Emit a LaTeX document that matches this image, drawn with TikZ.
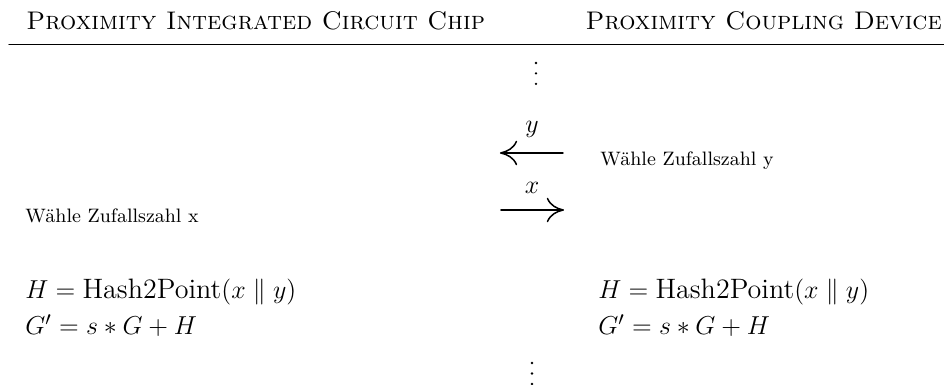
\documentclass[tikz,border=0pt]{standalone}
\usepackage{amsmath}
\usepackage{tikz}
\usetikzlibrary{arrows.meta}

\begin{document}
\begin{tikzpicture}[>={To[length=2.8mm,width=4mm]},line cap=round,
  msg/.style={line width=0.7pt},
  party/.style={inner sep=0pt,font=\fontsize{11.8}{14}\selectfont},
  note/.style={font=\small,anchor=base west,inner sep=0pt},
  lab/.style={inner sep=0pt,font=\fontsize{13}{15}\selectfont},
  eqn/.style={anchor=base west,inner sep=0pt,font=\fontsize{13}{15}\selectfont}]
\useasboundingbox (0,0) rectangle (15.36,6.264);
% header
\node[party,anchor=base west] (chip) at (0.423,5.776) {\textsc{Proximity Integrated Circuit Chip}};
\node[party,anchor=base east] (pcd) at (15.33,5.776) {\textsc{Proximity Coupling Device}};
\coordinate (ruleL) at (0.146,5.548);
\coordinate (ruleR) at (15.36,5.548);
\draw[line width=0.45pt] (ruleL) -- (ruleR);
\foreach \k in {0,1,2}
  \fill (8.721,{5.239-0.17*\k}) circle (0.021);
% messages
\coordinate (yFrom) at (9.160,3.775);
\coordinate (yTo) at (8.135,3.775);
\draw[msg,->] (yFrom) -- (yTo);
\node[lab] (ylab) at (8.656,4.150) {$y$};
\node[note] (choY) at (9.762,3.579) {Wähle Zufallszahl y};
\coordinate (xFrom) at (8.151,2.847);
\coordinate (xTo) at (9.176,2.847);
\draw[msg,->] (xFrom) -- (xTo);
\node[lab] (xlab) at (8.656,3.205) {$x$};
\node[note] (choX) at (0.407,2.636) {Wähle Zufallszahl x};
% both sides
\node[eqn] (hashL) at (0.407,1.415) {$H = \text{Hash2Point}(x \parallel y)$};
\node[eqn] (gL) at (0.407,0.814) {$G' = s * G + H$};
\node[eqn] (hashR) at (9.729,1.415) {$H = \text{Hash2Point}(x \parallel y)$};
\node[eqn] (gR) at (9.729,0.814) {$G' = s * G + H$};
\foreach \k in {0,1,2}
  \fill (8.656,{0.358-0.171*\k}) circle (0.021);
\end{tikzpicture}
\end{document}
